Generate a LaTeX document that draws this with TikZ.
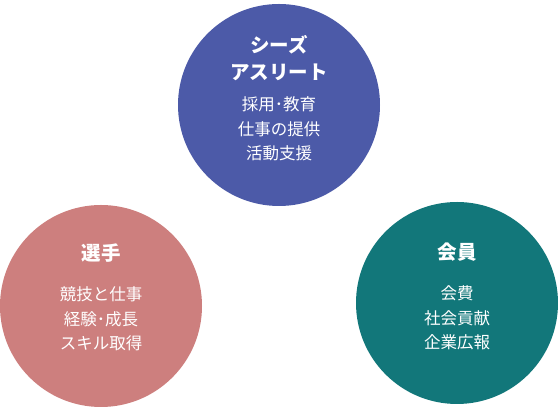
\documentclass[tikz,border=0pt]{standalone}
\usepackage{fontspec}
\newfontfamily\jpfont{Noto Sans CJK JP}
\usetikzlibrary{positioning}
\definecolor{athblue}{RGB}{76,90,168}
\definecolor{plyrose}{RGB}{205,127,126}
\definecolor{mbrteal}{RGB}{18,119,122}

\begin{document}
\begin{tikzpicture}[x=1pt,y=1pt]
		\tikzstyle{every node}+=[inner sep=0pt, text=white]
		\tikzstyle{ball}=[circle, minimum size=202pt]
		\tikzstyle{ttl}=[font=\jpfont\bfseries\fontsize{19.5}{27}\selectfont, align=center]
		\tikzstyle{txt}=[font=\jpfont\fontsize{16.5}{24.5}\selectfont, align=center]
		\useasboundingbox (0,0) rectangle (558,409);
		\node [ball, fill=athblue] (sa) at (279,304) {};
		\node [ball, fill=plyrose] (pl) at (101,103) {};
		\node [ball, fill=mbrteal] (mb) at (457,106) {};
		\node [ttl] (sattl) at (279,350.5) {シーズ\\アスリート};
		\node [txt] (satxt) at (279,280) {採用･教育\\仕事の提供\\活動支援};
		\node [ttl] (plttl) at (101,156) {選手};
		\node [txt] (pltxt) at (101,90) {競技と仕事\\経験･成長\\スキル取得};
		\node [ttl] (mbttl) at (457,157) {会員};
		\node [txt] (mbtxt) at (457,91) {会費\\社会貢献\\企業広報};
\end{tikzpicture}
\end{document}
